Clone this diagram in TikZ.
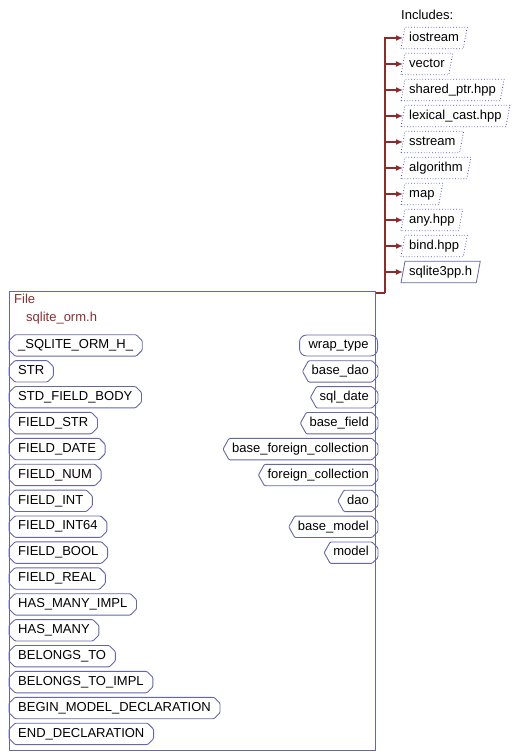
\documentclass[tikz,border=0pt]{standalone}
\usepackage{fontspec}
\setmainfont{Liberation Sans}
\usetikzlibrary{positioning}
\usetikzlibrary{shapes}
\usetikzlibrary{arrows.meta}

\definecolor{boxc}{RGB}{102,102,170}
\definecolor{incc}{RGB}{80,80,190}
\definecolor{depc}{RGB}{140,45,45}

\tikzset{
  lbl/.style={font=\fontsize{13}{18}\selectfont, text=black, text height=9pt, text depth=2.5pt},
  macro/.style={lbl, anchor=west, inner xsep=9pt, inner ysep=0pt, minimum height=21pt},
  klass/.style={lbl, anchor=east, inner xsep=9pt, inner ysep=0pt, minimum height=21pt},
  outline/.style={draw=boxc, line width=0.9pt, rounded corners=1pt},
  incl/.style={lbl, inner xsep=6pt, inner ysep=0pt, minimum height=21pt, anchor=west},
  inclline/.style={draw=incc, dotted, line width=0.8pt},
  dep/.style={depc, line width=1.5pt, -{Latex[length=7pt,width=6pt]}},
}

\begin{document}
\begin{tikzpicture}[x=1pt, y=-1pt]
\useasboundingbox (0,0) rectangle (518,756);
%file box
\node[draw=boxc, line width=1pt, minimum width=366pt, minimum height=459pt, anchor=north west, inner sep=0pt] (file) at (9,291) {};
\node[anchor=north west, align=left, text=depc, font=\fontsize{13}{18}\selectfont, inner sep=0pt] (title) at (14,294) {File\\\hspace{12pt}sqlite\_orm.h};

%includes
\node[anchor=west, lbl, inner sep=0pt] (inclabel) at (401,16) {Includes:};
\coordinate (trunk) at (385,293);
\draw[depc, line width=1.5pt] ([yshift=-2pt]file.north east) -- (trunk);
\foreach \txt [count=\i] in {iostream, vector, shared\_ptr.hpp, lexical\_cast.hpp, sstream, algorithm, map, any.hpp, bind.hpp, sqlite3pp.h} {
  \node[incl] (inc\i) at (403,12+26*\i) {\txt};
  \draw[dep] (trunk) |- (inc\i.west);
}
\foreach \i in {1,...,9}
  \draw[inclline] ([xshift=-2pt]inc\i.south west) -- ([xshift=2pt]inc\i.north west) -- ([xshift=2pt]inc\i.north east) -- ([xshift=-2pt]inc\i.south east) -- cycle;
\draw[inclline, solid, draw=boxc] ([xshift=-2pt]inc10.south west) -- ([xshift=2pt]inc10.north west) -- ([xshift=2pt]inc10.north east) -- ([xshift=-2pt]inc10.south east) -- cycle;

%macros
\foreach \txt [count=\i] in {\_SQLITE\_ORM\_H\_, STR, STD\_FIELD\_BODY, FIELD\_STR, FIELD\_DATE, FIELD\_NUM, FIELD\_INT, FIELD\_INT64, FIELD\_BOOL, FIELD\_REAL, HAS\_MANY\_IMPL, HAS\_MANY, BELONGS\_TO, BELONGS\_TO\_IMPL, BEGIN\_MODEL\_DECLARATION, END\_DECLARATION} {
  \node[macro] (m\i) at (9,319.5+25.9*\i) {\txt};
  \draw[outline] ([xshift=6pt]m\i.north west) -- ([yshift=-6pt]m\i.north west) -- ([yshift=6pt]m\i.south west) -- ([xshift=6pt]m\i.south west)
    -- ([xshift=-6pt]m\i.south east) -- ([yshift=6pt]m\i.south east) -- ([yshift=-6pt]m\i.north east) -- ([xshift=-6pt]m\i.north east) -- cycle;
}

%classes
\node[klass, draw=boxc, line width=0.9pt, rounded corners=7pt] (c0) at (378,345.5) {wrap\_type};
\foreach \txt [count=\i] in {base\_dao, sql\_date, base\_field, base\_foreign\_collection, foreign\_collection, dao, base\_model, model} {
  \node[klass] (c\i) at (378,345.5+25.9*\i) {\txt};
  \draw[outline] ([xshift=6pt]c\i.north west) -- (c\i.west) -- ([xshift=6pt]c\i.south west)
    -- ([xshift=-6pt]c\i.south east) -- ([yshift=6pt]c\i.south east) -- ([yshift=-6pt]c\i.north east) -- ([xshift=-6pt]c\i.north east) -- cycle;
}
\end{tikzpicture}
\end{document}
